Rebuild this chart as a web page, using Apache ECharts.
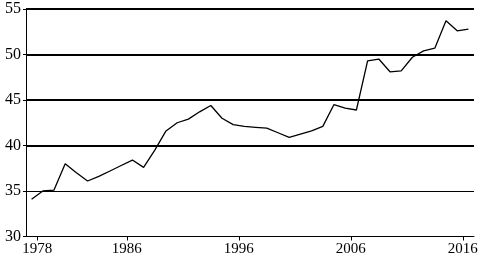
<!DOCTYPE html>
<html>
<head>
<meta charset="utf-8">
<script src="https://cdn.jsdelivr.net/npm/echarts@6/dist/echarts.min.js"></script>
<style>html,body{margin:0;padding:0;background:#fff;}#c{width:481px;height:259px;}</style>
</head>
<body>
<div id="c"></div>
<script>
const years = [1978,1979,1980,1981,1982,1983,1984,1985,1986,1987,1988,1989,1990,1991,1992,1993,1994,1995,1996,1997,1998,1999,2000,2001,2002,2003,2004,2005,2006,2007,2008,2009,2010,2011,2012,2013,2014,2015,2016,2017];
const values = [34.1,35.0,35.1,38.0,37.0,36.1,36.6,37.2,37.8,38.4,37.6,39.5,41.6,42.5,42.9,43.7,44.4,43.0,42.3,42.1,42.0,41.9,41.4,40.9,41.25,41.6,42.1,44.5,44.1,43.9,49.3,49.5,48.1,48.2,49.7,50.4,50.7,53.7,52.6,52.8];
const xTicks = [1978,1986,1996,2006,2016];
const thickGrid = [40,45,50,55];

const chart = echarts.init(document.getElementById('c'), null, {renderer:'canvas'});
const font = 'Liberation Serif';
chart.setOption({
  animation:false,
  backgroundColor:'#ffffff',
  grid:{left:26,right:7,top:9,bottom:22.5,containLabel:false},
  xAxis:[
    {type:'category',data:years,boundaryGap:true,show:false},
    {type:'value',min:1977,max:2017,position:'bottom',
     axisLine:{show:true,lineStyle:{color:'#000',width:1}},
     axisTick:{show:true,length:4,customValues:xTicks,lineStyle:{color:'#000'}},
     axisLabel:{customValues:xTicks,color:'#000',fontFamily:font,fontSize:15,margin:5,formatter:v=>String(v)},
     splitLine:{show:false}}
  ],
  yAxis:{type:'value',min:30,max:55,interval:5,
    axisLine:{show:true,lineStyle:{color:'#000',width:1}},
    axisTick:{show:true,length:3,lineStyle:{color:'#000'}},
    axisLabel:{color:'#000',fontFamily:font,fontSize:16,margin:5},
    splitLine:{show:true,lineStyle:{color:'#000',width:1}}
  },
  series:[{type:'line',xAxisIndex:0,data:values,symbol:'none',
    lineStyle:{color:'#000',width:1.3},
    markLine:{silent:true,symbol:'none',label:{show:false},
      lineStyle:{color:'#000',width:2,type:'solid'},
      data:thickGrid.map(v=>({yAxis:v}))}
  }]
});
</script>
</body>
</html>
